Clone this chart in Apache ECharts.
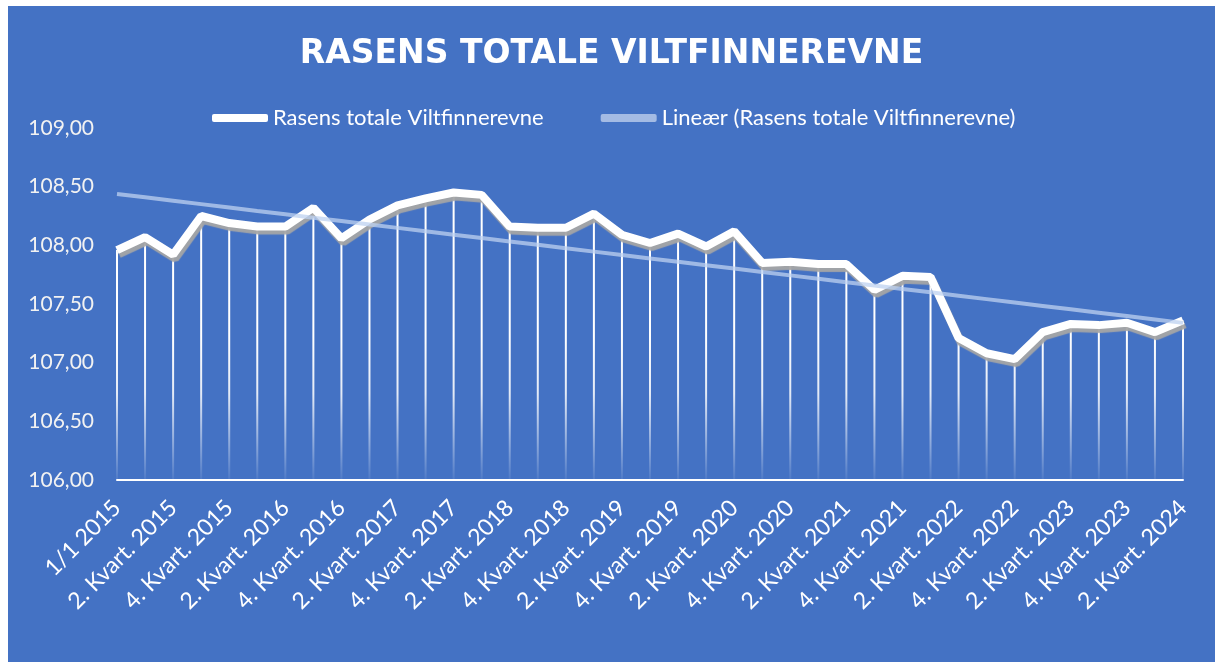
<!DOCTYPE html>
<html>
<head>
<meta charset="utf-8">
<script src="https://cdn.jsdelivr.net/npm/echarts@6/dist/echarts.min.js"></script>
<style>
  html, body { margin: 0; padding: 0; background: #ffffff; }
  #chart { position: absolute; left: 8px; top: 6px; width: 1207px; height: 656px; background: #4472C4; }
</style>
</head>
<body>
<div id="chart"></div>
<script>
const titleText = 'RASENS TOTALE VILTFINNEREVNE';
const seriesName = 'Rasens totale Viltfinnerevne';
const trendName = 'Lineær (Rasens totale Viltfinnerevne)';

const categories = [
  '1/1 2015', '1. Kvart. 2015', '2. Kvart. 2015', '3. Kvart. 2015', '4. Kvart. 2015',
  '1. Kvart. 2016', '2. Kvart. 2016', '3. Kvart. 2016', '4. Kvart. 2016',
  '1. Kvart. 2017', '2. Kvart. 2017', '3. Kvart. 2017', '4. Kvart. 2017',
  '1. Kvart. 2018', '2. Kvart. 2018', '3. Kvart. 2018', '4. Kvart. 2018',
  '1. Kvart. 2019', '2. Kvart. 2019', '3. Kvart. 2019', '4. Kvart. 2019',
  '1. Kvart. 2020', '2. Kvart. 2020', '3. Kvart. 2020', '4. Kvart. 2020',
  '1. Kvart. 2021', '2. Kvart. 2021', '3. Kvart. 2021', '4. Kvart. 2021',
  '1. Kvart. 2022', '2. Kvart. 2022', '3. Kvart. 2022', '4. Kvart. 2022',
  '1. Kvart. 2023', '2. Kvart. 2023', '3. Kvart. 2023', '4. Kvart. 2023',
  '1. Kvart. 2024', '2. Kvart. 2024'
];

const values = [
  107.96, 108.07, 107.92, 108.25, 108.19,
  108.16, 108.16, 108.32, 108.06,
  108.22, 108.34, 108.40, 108.45,
  108.43, 108.16, 108.15, 108.15,
  108.27, 108.09, 108.02, 108.10,
  107.99, 108.12, 107.85, 107.86,
  107.84, 107.84, 107.62, 107.74,
  107.73, 107.21, 107.08, 107.03,
  107.26, 107.33, 107.32, 107.34,
  107.26, 107.36
];

const yMin = 106, yMax = 109, yStep = 0.5;

// Linear trend line (least squares over the category index), like Excel's "Lineær" trendline
function linearTrend(arr) {
  const n = arr.length;
  let sx = 0, sy = 0, sxx = 0, sxy = 0;
  arr.forEach((y, i) => { sx += i; sy += y; sxx += i * i; sxy += i * y; });
  const b = (n * sxy - sx * sy) / (n * sxx - sx * sx);
  const a = (sy - b * sx) / n;
  return arr.map((_, i) => +(a + b * i).toFixed(4));
}
const trend = linearTrend(values);

const chart = echarts.init(document.getElementById('chart'), null, { renderer: 'canvas' });
const font = 'Lato';

chart.setOption({
  backgroundColor: '#4472C4',
  animation: false,
  title: {
    text: titleText,
    left: 'center',
    top: 27,
    textStyle: { color: '#ffffff', fontFamily: 'DejaVu Sans', fontWeight: 'bold', fontSize: 33 }
  },
  legend: {
    left: 204,
    top: 101,
    padding: 0,
    itemWidth: 56,
    itemHeight: 8,
    itemGap: 57,
    textStyle: { color: '#ffffff', fontFamily: font, fontSize: 22 },
    data: [
      { name: seriesName, icon: 'roundRect', itemStyle: { color: '#ffffff' } },
      { name: trendName, icon: 'roundRect', itemStyle: { color: '#a4bbe4' } }
    ]
  },
  grid: { left: 109, right: 32, top: 122, bottom: 182, containLabel: false },
  xAxis: {
    type: 'category',
    data: categories,
    boundaryGap: false,
    axisLine: { show: true, lineStyle: { color: '#ffffff', width: 2 } },
    axisTick: { show: false },
    splitLine: { show: false },
    axisLabel: {
      interval: 1,
      rotate: 45,
      margin: 24,
      color: '#ffffff',
      fontFamily: font,
      fontSize: 23
    }
  },
  yAxis: {
    type: 'value',
    min: yMin,
    max: yMax,
    interval: yStep,
    axisLine: { show: false },
    axisTick: { show: false },
    splitLine: { show: false },
    axisLabel: {
      margin: 23,
      color: '#f2f2f2',
      fontFamily: font,
      fontSize: 21,
      formatter: v => v.toFixed(2).replace('.', ',')
    }
  },
  series: [
    {
      name: 'drop',
      type: 'bar',
      data: values,
      barWidth: 2,
      silent: true,
      z: 1,
      itemStyle: {
        color: {
          type: 'linear', global: true,
          x: 0, y: 330, x2: 0, y2: 474,
          colorStops: [
            { offset: 0, color: 'rgba(255,255,255,1)' },
            { offset: 0.4, color: 'rgba(255,255,255,0.85)' },
            { offset: 1, color: 'rgba(255,255,255,0.06)' }
          ]
        }
      }
    },
    {
      name: seriesName,
      type: 'line',
      data: values,
      symbol: 'none',
      z: 3,
      color: '#ffffff',
      lineStyle: {
        color: '#ffffff',
        width: 8,
        shadowColor: 'rgba(165,165,165,0.95)',
        shadowBlur: 1,
        shadowOffsetX: 2,
        shadowOffsetY: 4
      }
    },
    {
      name: trendName,
      type: 'line',
      data: trend,
      symbol: 'none',
      z: 4,
      color: '#a4bbe4',
      lineStyle: { color: 'rgba(190,210,240,0.75)', width: 4 }
    }
  ]
});
</script>
</body>
</html>
